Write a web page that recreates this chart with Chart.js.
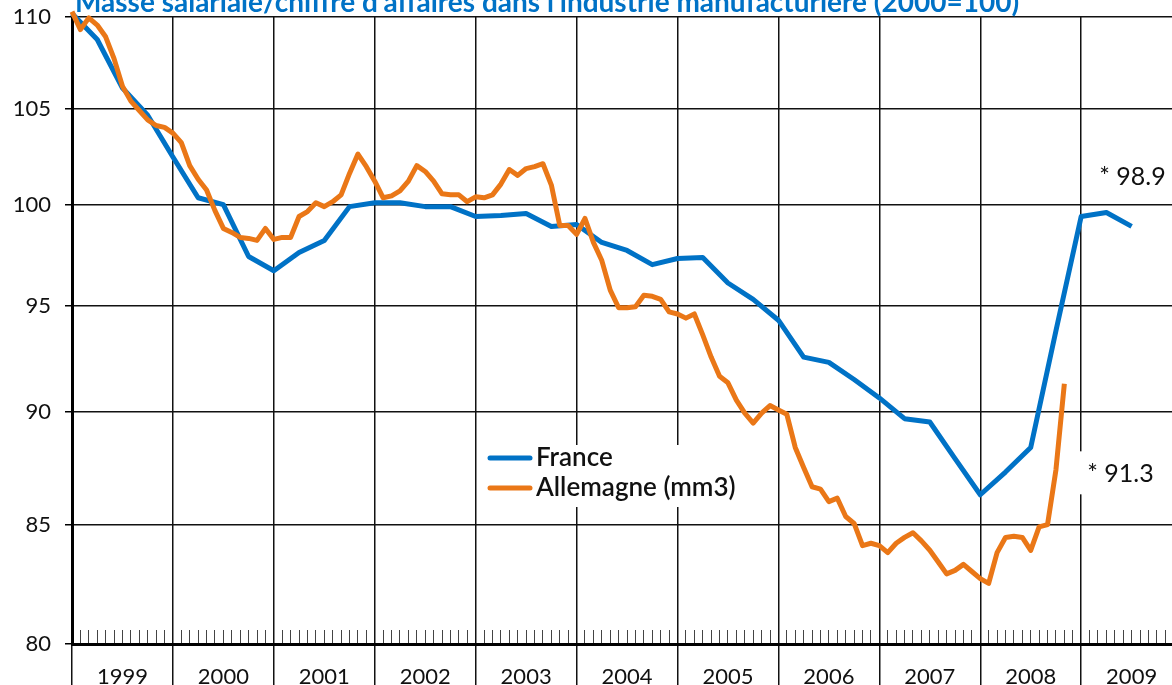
<!DOCTYPE html>
<html lang="fr">
<head>
<meta charset="utf-8">
<title>Masse salariale / chiffre d'affaires</title>
<script src="https://cdn.jsdelivr.net/npm/chart.js@4.4.1/dist/chart.umd.min.js"></script>
<style>
  html, body { margin: 0; padding: 0; background: #fff; overflow: hidden; }
  #wrap { width: 1172px; height: 685px; }
</style>
</head>
<body>
<div id="wrap"><canvas id="chart" width="1172" height="685"></canvas></div>
<script>
const chartTitle = "Masse salariale/chiffre d'affaires dans l'industrie manufacturière (2000=100)";
const seriesNames = ['France', 'Allemagne (mm3)'];
const yearLabels = ['1999', '2000', '2001', '2002', '2003', '2004', '2005', '2006', '2007', '2008', '2009'];
const yTicks = [80, 85, 90, 95, 100, 105, 110];
const lastNotes = ['* 98.9', '* 91.3'];

// France, quarterly from 1999 Q1
const france = [
  110.2, 108.75, 106.1, 104.65, 102.45, 100.35, 100.0, 97.4, 96.7, 97.6, 98.2, 99.9,
  100.1, 100.1, 99.9, 99.9, 99.4, 99.45, 99.55, 98.9, 99.0, 98.1, 97.7, 97.0,
  97.3, 97.35, 96.1, 95.3, 94.3, 92.55, 92.3, 91.5, 90.65, 89.7, 89.55, 87.9,
  86.3, 87.3, 88.4, 93.8, 99.4, 99.6, 98.9
];

// Allemagne, moyenne mobile 3 mois, monthly from 1999-01
const allemagne = [
  110.3, 109.3, 109.95, 109.55, 108.9, 107.7, 106.2, 105.4, 104.9, 104.4, 104.1, 104.0,
  103.7, 103.2, 102.0, 101.3, 100.75, 99.7, 98.8, 98.6, 98.35, 98.3, 98.2, 98.8,
  98.25, 98.35, 98.35, 99.4, 99.65, 100.1, 99.9, 100.15, 100.5, 101.6, 102.6, 101.95,
  101.2, 100.35, 100.45, 100.7, 101.2, 102.0, 101.7, 101.2, 100.55, 100.5, 100.5, 100.15,
  100.4, 100.35, 100.5, 101.05, 101.8, 101.5, 101.85, 101.95, 102.1, 101.0, 98.95, 98.95,
  98.5, 99.3, 98.1, 97.2, 95.75, 94.9, 94.9, 94.95, 95.5, 95.45, 95.3, 94.7,
  94.6, 94.4, 94.6, 93.6, 92.55, 91.65, 91.35, 90.55, 89.95, 89.5, 89.95, 90.3,
  90.1, 89.9, 88.4, 87.5, 86.65, 86.55, 86.0, 86.15, 85.35, 85.05, 84.1, 84.2,
  84.1, 83.8, 84.2, 84.45, 84.65, 84.3, 83.9, 83.4, 82.9, 83.05, 83.3, 83.0,
  82.7, 82.5, 83.8, 84.45, 84.5, 84.45, 83.9, 84.9, 85.0, 87.4, 91.3
];

const startYear = 1999;
const endX = 2009.9;
const blue = '#0072C6';
const orange = '#EA7717';
const ink = '#111';
const fontFamily = 'Lato, "Noto Sans", sans-serif';

const francePts = france.map((v, i) => ({ x: startYear + i / 4, y: v }));
const allemagnePts = allemagne.map((v, i) => ({ x: startYear + i / 12, y: v }));

// where the end-of-series notes sit (in data units)
const notePos = [{ x: 2009.18, y: 101.4, box: false }, { x: 2009.06, y: 87.2, box: true }];

const topTitle = {
    id: 'topTitle',
    afterDraw(chart) {
        const c = chart.ctx;
        c.save();
        c.font = 'bold 28px ' + fontFamily;
        c.fillStyle = blue;
        c.textBaseline = 'alphabetic';
        c.fillText(chartTitle, chart.chartArea.left + 3, 12);
        c.restore();
    }
};

const boxLegend = {
    id: 'boxLegend',
    afterDraw(chart) {
        const c = chart.ctx;
        const colors = [blue, orange];
        c.save();
        c.fillStyle = '#fff';
        c.fillRect(483, 445, 258, 62);
        c.font = '600 26px ' + fontFamily;
        c.textBaseline = 'middle';
        seriesNames.forEach((name, i) => {
            const y = 458 + i * 30;
            c.strokeStyle = colors[i];
            c.lineWidth = 5;
            c.lineCap = 'round';
            c.beginPath();
            c.moveTo(490, y);
            c.lineTo(530, y);
            c.stroke();
            c.fillStyle = ink;
            c.fillText(name, 536, y);
        });
        c.restore();
    }
};

const endNotes = {
    id: 'endNotes',
    afterDraw(chart) {
        const c = chart.ctx;
        const xs = chart.scales.x;
        const ys = chart.scales.y;
        c.save();
        c.font = '25px ' + fontFamily;
        c.textBaseline = 'middle';
        lastNotes.forEach((txt, i) => {
            const px = xs.getPixelForValue(notePos[i].x);
            const py = ys.getPixelForValue(notePos[i].y);
            if (notePos[i].box) {
                const w = c.measureText(txt).width;
                c.fillStyle = '#fff';
                c.fillRect(px - 10, py - 23, w + 16, 43);
            }
            c.fillStyle = ink;
            c.fillText(txt, px, py);
        });
        c.restore();
    }
};

const ctx = document.getElementById('chart');

new Chart(ctx, {
    type: 'line',
    data: {
        datasets: [
            {
                label: seriesNames[0],
                data: francePts,
                borderColor: blue,
                backgroundColor: blue,
                borderWidth: 5,
                pointRadius: 0,
                tension: 0,
                clip: false,
                order: 2,
                borderJoinStyle: 'round',
                borderCapStyle: 'butt'
            },
            {
                label: seriesNames[1],
                data: allemagnePts,
                borderColor: orange,
                backgroundColor: orange,
                borderWidth: 5,
                pointRadius: 0,
                tension: 0,
                clip: false,
                order: 1,
                borderJoinStyle: 'round',
                borderCapStyle: 'butt'
            }
        ]
    },
    options: {
        responsive: false,
        animation: false,
        layout: { padding: { top: 17, right: 0, bottom: 0, left: 0 } },
        plugins: {
            legend: { display: false },
            tooltip: { enabled: false },
            title: { display: false }
        },
        scales: {
            x: {
                type: 'linear',
                position: 'bottom',
                weight: 1,
                min: startYear,
                max: endX,
                afterBuildTicks: (scale) => {
                    const t = [];
                    yearLabels.forEach((lab, i) => {
                        t.push({ value: startYear + i });
                        t.push({ value: startYear + i + 0.5 });
                    });
                    scale.ticks = t;
                },
                afterFit: (scale) => {
                    scale.height = 41;
                    scale.paddingLeft = 0;
                    scale.paddingRight = 0;
                },
                grid: {
                    color: (c) => (c.tick && Number.isInteger(c.tick.value)) ? ink : 'rgba(0,0,0,0)',
                    lineWidth: 1.5,
                    drawTicks: true,
                    tickLength: 41
                },
                border: { display: true, color: '#000', width: 3 },
                ticks: {
                    autoSkip: false,
                    maxRotation: 0,
                    padding: -21,
                    color: ink,
                    font: { family: fontFamily, size: 22 },
                    callback: (v) => Number.isInteger(v) ? '' : yearLabels[Math.floor(v) - startYear]
                }
            },
            xMonths: {
                type: 'linear',
                position: 'bottom',
                weight: 0,
                min: startYear,
                max: endX,
                afterBuildTicks: (scale) => {
                    const t = [];
                    for (let m = 1; m < yearLabels.length * 12; m++) {
                        if (m % 12 !== 0) t.push({ value: startYear + m / 12 });
                    }
                    scale.ticks = t;
                },
                afterFit: (scale) => { scale.height = 0; },
                grid: {
                    drawOnChartArea: false,
                    drawTicks: true,
                    tickLength: -14,
                    color: '#444',
                    lineWidth: 1
                },
                border: { display: false },
                ticks: { display: false, autoSkip: false }
            },
            y: {
                type: 'logarithmic',
                min: 80,
                max: 110,
                afterBuildTicks: (scale) => {
                    scale.ticks = yTicks.map((v) => ({ value: v }));
                },
                afterFit: (scale) => {
                    scale.width = 72;
                    scale.paddingTop = 0;
                    scale.paddingBottom = 0;
                },
                grid: {
                    color: ink,
                    lineWidth: 1.5,
                    drawTicks: true,
                    tickLength: 7,
                    tickColor: '#000',
                    tickWidth: 1.5
                },
                border: { display: true, color: '#000', width: 3 },
                ticks: {
                    padding: 14,
                    color: ink,
                    font: { family: fontFamily, size: 22 },
                    callback: (v) => String(v)
                }
            }
        }
    },
    plugins: [topTitle, boxLegend, endNotes]
});
</script>
</body>
</html>
